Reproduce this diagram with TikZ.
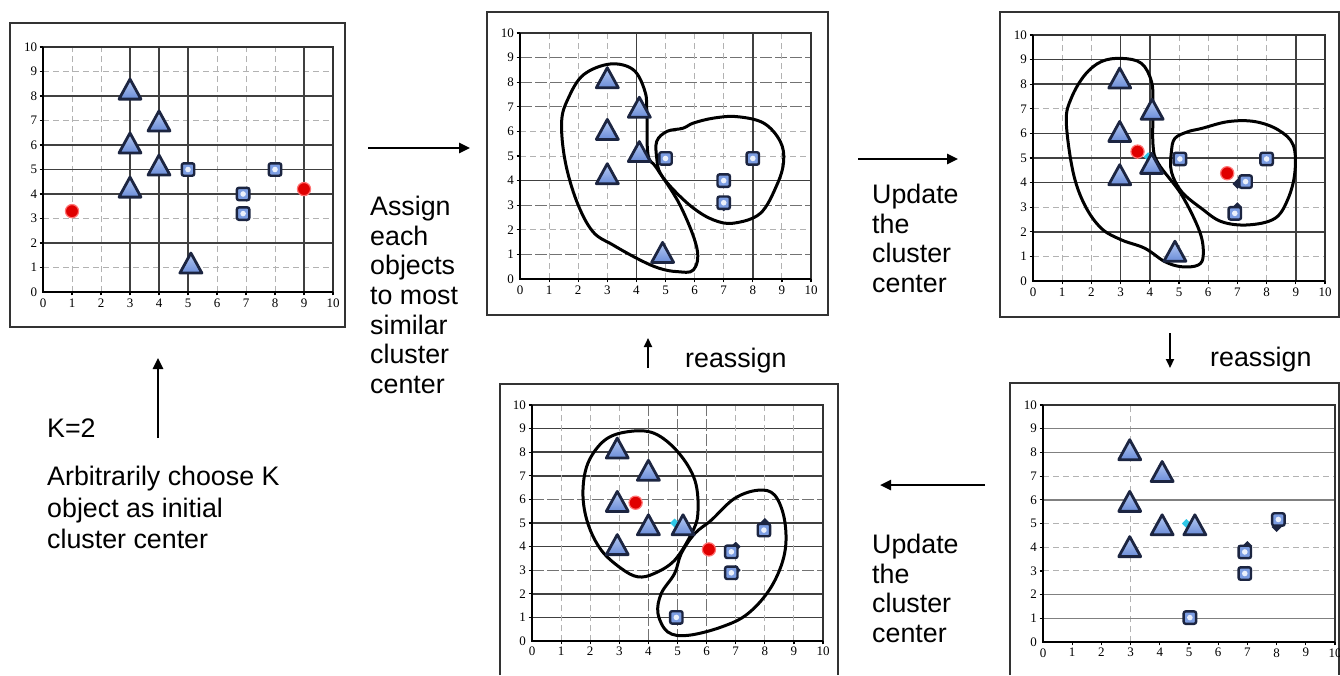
\documentclass[tikz,border=0pt]{standalone}
\usepackage{fontspec}
\setmainfont{Liberation Sans}
\newfontfamily\tickfont{Liberation Serif}
\usetikzlibrary{arrows.meta}
\definecolor{navy}{HTML}{1C2541}
\definecolor{triL}{HTML}{B8CCF4}
\definecolor{triD}{HTML}{6A8CD8}
\definecolor{sqB}{HTML}{7C9DE2}
\definecolor{dotR}{HTML}{E00000}
\definecolor{cyanB}{HTML}{30C8E8}
\tikzset{
 panel/.style={draw=black!80, line width=1.3pt},
 gdark/.style={black!75, line width=1.7pt},
 gmed/.style={black!55, line width=1.2pt, dash pattern=on 12pt off 3pt},
 glight/.style={black!30, line width=0.9pt, dash pattern=on 6pt off 4pt},
 axisline/.style={black, line width=2.3pt},
 ticklab/.style={font=\tickfont\fontsize{13}{15}\selectfont, inner sep=0pt},
 blob/.style={black, line width=3pt, smooth cycle, tension=0.6},
 txt/.style={font=\fontsize{26.8}{29.6}\selectfont, align=left, inner sep=0pt, anchor=north west},
 ltxt/.style={font=\fontsize{26.8}{29.6}\selectfont, inner sep=0pt, anchor=base west},
 arr/.style={line width=2.5pt, -{Triangle[length=11pt,width=10pt]}},
 sarr/.style={line width=2pt, -{Triangle[length=9pt,width=8pt]}},
 tri/.pic={\path[top color=triL, bottom color=triD, draw=navy, line width=2.8pt, line join=round] (-11pt,-8pt) -- (11pt,-8pt) -- (0pt,12pt) -- cycle;},
 sq/.pic={\path[fill=sqB, draw=navy, line width=2.4pt, rounded corners=2pt] (-6.2pt,-6.2pt) rectangle (6.2pt,6.2pt); \fill[white!85!sqB] (0pt,0pt) circle (2.8pt);},
 ctr/.pic={\filldraw[fill=dotR, draw=red!55!white, line width=1.2pt] (0pt,0pt) circle (6.6pt);},
 dk/.pic={\fill[navy] (0pt,-5pt) -- (5pt,0pt) -- (0pt,5pt) -- (-5pt,0pt) -- cycle;},
 cy/.pic={\fill[cyanB] (0pt,-4.5pt) -- (4.5pt,0pt) -- (0pt,4.5pt) -- (-4.5pt,0pt) -- cycle;}
}
\newcommand\kmaxes[1]{%
 \draw[black!80, line width=1.2pt] (0,10) -- (10,10) -- (10,0);
 \foreach \i in {1,...,10}{\draw[black, line width=1.2pt] (-0.12,\i) -- (0,\i); \draw[black, line width=1.2pt] (\i,-0.14) -- (\i,0);}
 \draw[axisline] (0,10) -- (0,0) -- (10,0);
 \foreach \i in {0,...,10}{\node[ticklab, anchor=east] (#1y\i) at (-0.2,\i) {\i}; \node[ticklab, anchor=north] (#1x\i) at (\i,-0.26) {\i};}
}
\begin{document}
\begin{tikzpicture}[x=1pt, y=-1pt]
\useasboundingbox[fill=white] (0,0) rectangle (1340,675);

% ---------------- panel 1 ----------------
\node[panel, minimum width=335pt, minimum height=304pt, inner sep=0pt] (p1) at (177.5,175) {};
\begin{scope}[shift={(43,292)}, x=29pt, y=24.5pt]
 \foreach \j in {1,3,7,9} \draw[glight] (0,\j) -- (10,\j);
 \foreach \j in {1,2,6,7,8} \draw[glight] (\j,0) -- (\j,10);
 \foreach \j in {2,4,5,6,8} \draw[gdark] (0,\j) -- (10,\j);
 \foreach \j in {3,4,5,9} \draw[gdark] (\j,0) -- (\j,10);
 \kmaxes{a}
 \foreach \p in {(3,8.2),(4,6.9),(3,6),(4,5.1),(3,4.2),(5.1,1.1)} \pic at \p {tri};
 \foreach \p in {(5,5),(8,5),(6.9,4),(6.9,3.2)} \pic at \p {sq};
 \pic at (1,3.3) {ctr};
 \pic at (9,4.2) {ctr};
\end{scope}

% ---------------- panel 2 ----------------
\node[panel, minimum width=341pt, minimum height=303pt, inner sep=0pt] (p2) at (657.5,163.5) {};
\begin{scope}[shift={(520,279)}, x=29.1pt, y=24.6pt]
 \foreach \j in {2,5,6} \draw[glight] (0,\j) -- (10,\j);
 \foreach \j in {1,3,7,8,9} \draw[gmed] (0,\j) -- (10,\j);
 \foreach \j in {1,2,3,5,6,7,9} \draw[glight] (\j,0) -- (\j,10);
 \draw[gdark] (0,4) -- (10,4);
 \foreach \j in {4,8} \draw[gdark] (\j,0) -- (\j,10);
 \kmaxes{b}
 \draw[blob] plot coordinates {(3.1,8.74) (3.9,8.5) (4.3,7.6) (4.36,6.7) (4.4,5.05) (4.7,4.5) (5.5,3.0) (6.08,1.25) (5.96,0.37) (5.4,0.3) (4.8,0.43) (4.13,0.77) (3.2,1.38) (2.5,1.93) (1.95,3.15) (1.55,4.8) (1.43,6.4) (1.66,7.35) (2.18,8.3)};
 \draw[blob] plot coordinates {(4.7,5.6) (5.05,6.0) (5.6,6.13) (5.96,6.34) (6.65,6.54) (7.45,6.6) (8.37,6.34) (8.94,5.6) (9.06,4.78) (8.83,3.83) (8.26,2.67) (7.34,2.27) (6.65,2.4) (5.96,2.88) (5.28,3.62) (4.82,4.3) (4.7,4.9)};
 \pic at (7,2.95) {dk};
 \foreach \p in {(3,8.1),(4.1,6.9),(3,6),(4.1,5.1),(3,4.2),(4.9,1.0)} \pic at \p {tri};
 \foreach \p in {(5,4.9),(8,4.9),(7,4),(7,3.1)} \pic at \p {sq};
\end{scope}

% ---------------- panel 3 ----------------
\node[panel, minimum width=339pt, minimum height=305pt, inner sep=0pt] (p3) at (1169.5,164.5) {};
\begin{scope}[shift={(1033,281)}, x=29.2pt, y=24.6pt]
 \foreach \j in {1,3,7} \draw[glight] (0,\j) -- (10,\j);
 \foreach \j in {1,2,5,6,7,8} \draw[glight] (\j,0) -- (\j,10);
 \foreach \j in {2,4,5,6,8,9} \draw[gdark] (0,\j) -- (10,\j);
 \foreach \j in {3,4,9} \draw[gdark] (\j,0) -- (\j,10);
 \kmaxes{c}
 \draw[blob] plot coordinates {(3.03,9.05) (3.71,8.85) (4.06,8.1) (4.11,7.15) (4.11,5.53) (4.29,4.78) (5.09,3.5) (5.71,2.0) (5.83,1.06) (5.66,0.65) (5.09,0.58) (4.51,0.79) (3.83,1.33) (3.03,1.67) (2.34,2.14) (1.77,3.09) (1.37,4.44) (1.14,6.48) (1.31,7.43) (1.77,8.37) (2.34,8.92)};
 \draw[blob] plot coordinates {(4.86,5.8) (5.31,6.07) (5.77,6.2) (6.69,6.48) (7.6,6.48) (8.4,6.14) (8.91,5.53) (8.97,4.44) (8.74,3.36) (8.29,2.55) (7.37,2.28) (6.46,2.41) (5.77,2.95) (5.09,3.63) (4.74,4.44) (4.74,5.26)};
 \pic at (7,3.0) {dk};
 \pic at (7,3.95) {dk};
 \pic at (3.94,5.05) {cy};
 \foreach \p in {(2.97,8.17),(4.08,6.9),(2.97,6.0),(4.06,4.7),(2.97,4.24),(4.86,1.13)} \pic at \p {tri};
 \foreach \p in {(5.03,4.96),(8,4.96),(7.28,4.04),(6.91,2.75)} \pic at \p {sq};
 \pic at (3.58,5.26) {ctr};
 \pic at (6.65,4.38) {ctr};
\end{scope}

% ---------------- panel 4 (bottom middle) ----------------
\draw[panel] (500,675) -- (500,384) -- (838,384) -- (838,675);
\begin{scope}[shift={(532,641)}, x=29.1pt, y=23.6pt]
 \foreach \j in {3,6} \draw[gmed] (0,\j) -- (10,\j);
 \foreach \j in {1,2,4,5,7,8,9} \draw[gdark] (0,\j) -- (10,\j);
 \foreach \j in {1,2,3,7,8,9} \draw[glight] (\j,0) -- (\j,10);
 \foreach \j in {4,5,6} \draw[gmed] (\j,0) -- (\j,10);
 \kmaxes{d}
 \draw[blob] plot coordinates {(3.3,8.87) (4.2,8.8) (5.02,8.0) (5.6,6.8) (5.7,5.4) (5.48,4.55) (4.9,3.42) (4.2,2.86) (3.64,2.72) (3.07,3.07) (2.38,3.85) (1.92,4.98) (1.75,6.25) (1.92,7.53) (2.5,8.51)};
 \draw[blob] plot coordinates {(6.16,5.12) (6.96,6.04) (7.77,6.39) (8.34,6.18) (8.68,5.12) (8.68,3.71) (8.22,2.29) (7.42,1.16) (6.5,0.59) (5.36,0.24) (4.67,0.38) (4.33,1.16) (4.44,2.01) (4.9,2.86) (5.13,3.71) (5.59,4.55)};
 \pic at (7,4.0) {dk};
 \pic at (7,3.0) {dk};
 \pic at (8,5.0) {dk};
 \pic at (4.9,5.0) {cy};
 \foreach \p in {(2.93,8.09),(4.0,7.15),(2.93,5.83),(4.0,4.84),(2.93,4.0),(5.19,4.84)} \pic at \p {tri};
 \foreach \p in {(4.96,1.0),(6.85,3.78),(6.85,2.89),(7.97,4.7)} \pic at \p {sq};
 \pic at (3.56,5.86) {ctr};
 \pic at (6.08,3.88) {ctr};
\end{scope}

% ---------------- panel 5 (bottom right) ----------------
\draw[panel] (1010,675) -- (1010,383) -- (1339,383) -- (1339,675);
\begin{scope}[shift={(1043,642)}, x=29.2pt, y=23.7pt]
 \foreach \j in {3,4,5,7} \draw[glight] (0,\j) -- (10,\j);
 \draw[glight] (3,0) -- (3,10);
 \foreach \j in {1,2,6,8,9} \draw[black!50, line width=1.4pt] (0,\j) -- (10,\j);
 \kmaxes{e}
 \pic at (7,4.05) {dk};
 \pic at (7,3.0) {dk};
 \pic at (8,4.85) {dk};
 \pic at (4.91,5.0) {cy};
 \foreach \p in {(2.97,8.03),(4.08,7.11),(2.97,5.85),(4.08,4.86),(5.2,4.86),(2.97,3.94)} \pic at \p {tri};
 \foreach \p in {(5.03,1.03),(6.91,3.8),(6.91,2.89),(8.06,5.17)} \pic at \p {sq};
\end{scope}

% ---------------- texts ----------------
\node[txt] (k2) at (47,419) {K=2};
\node[txt, font=\fontsize{26.8}{31.5}\selectfont] (choose) at (47,466) {Arbitrarily choose K\\object as initial\\cluster center};
\node[txt] (assign) at (370,196) {Assign\\each\\objects\\to most\\similar\\cluster\\center};
\node[txt] (upd1) at (872,184) {Update\\the\\cluster\\center};
\node[txt] (upd2) at (872,534) {Update\\the\\cluster\\center};
\node[ltxt] (re1) at (685,367) {reassign};
\node[ltxt] (re2) at (1210,366) {reassign};

% ---------------- arrows ----------------
\coordinate (a1s) at (158,438); \coordinate (a1e) at (158,358);
\coordinate (a2s) at (368,148); \coordinate (a2e) at (470,148);
\coordinate (a3s) at (858,159); \coordinate (a3e) at (958,159);
\coordinate (a4s) at (1170,333); \coordinate (a4e) at (1170,368);
\coordinate (a5s) at (985,485); \coordinate (a5e) at (880,485);
\coordinate (a6s) at (648,368); \coordinate (a6e) at (648,338);
\draw[arr] (a1s) -- (a1e);
\draw[arr] (a2s) -- (a2e);
\draw[arr] (a3s) -- (a3e);
\draw[sarr] (a4s) -- (a4e);
\draw[arr] (a5s) -- (a5e);
\draw[sarr] (a6s) -- (a6e);
\end{tikzpicture}
\end{document}
